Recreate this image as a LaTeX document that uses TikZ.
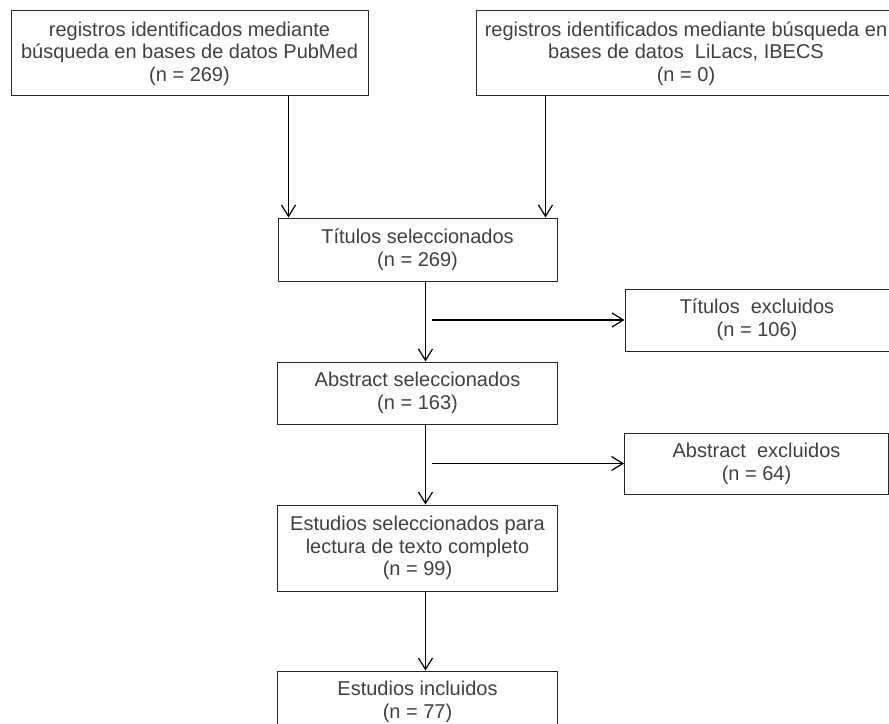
\documentclass[tikz,border=0pt]{standalone}
\usepackage{fontspec}
\setmainfont{Liberation Sans}
\usepackage{xcolor}
\usetikzlibrary{arrows.meta, calc, positioning}

\begin{document}
\begin{tikzpicture}[x=0.75pt, y=-0.75pt]
    % Define the style for the nodes
    \tikzstyle{box} = [draw=black!85, line width=0.75pt, align=center, text=black!75, inner sep=0pt, font=\fontsize{15}{17}\selectfont]
    \tikzstyle{line} = [draw, line width=0.9pt, -{Straight Barb[length=8.5pt, width=10.5pt]}]

    \useasboundingbox (0,0) rectangle (889,724);

    % Place the nodes
    \node [box, minimum width=267.75pt, minimum height=63.75pt] (pubmed) at (189.5,53.5)
        {registros identificados mediante\\ búsqueda en bases de datos PubMed\\ (n = 269)};
    \node [box, minimum width=315pt, minimum height=63.75pt] (lilacs) at (686,53.5)
        {registros identificados mediante búsqueda en\\ bases de datos~ LiLacs, IBECS\\ (n = 0)};
    \node [box, minimum width=209.25pt, minimum height=47.25pt] (titsel) at (417.5,249.5)
        {Títulos seleccionados\\ (n = 269)};
    \node [box, minimum width=198pt, minimum height=46.5pt, below right=5.25pt and 50.25pt of titsel] (titexc)
        {Títulos~ excluidos\\ (n = 106)};
    \node [box, minimum width=210pt, minimum height=46.5pt, below=60pt of titsel] (abssel)
        {Abstract seleccionados\\ (n = 163)};
    \node [box, minimum width=198pt, minimum height=45.75pt, below right=6pt and 49.5pt of abssel] (absexc)
        {Abstract~ excluidos\\ (n = 64)};
    \node [box, minimum width=210pt, minimum height=64.5pt, below=60pt of abssel] (textsel)
        {Estudios seleccionados para\\ lectura de texto completo\\ (n = 99)};
    \node [box, minimum width=210pt, minimum height=46.5pt, below=59.25pt of textsel] (incl)
        {Estudios incluidos\\ (n = 77)};

    % Points where the arrows meet the boxes
    \coordinate (inA) at ($(titsel.north west)+(11,0)$);
    \coordinate (inB) at ($(titsel.north east)+(-12,0)$);
    \coordinate (col) at ($(titsel.south west)+(148,0)$);

    % Connect the nodes with paths
    \path [line] (pubmed.south -| inA) -- (inA);
    \path [line] (lilacs.south -| inB) -- (inB);
    \path [line] (titsel.south -| col) -- (abssel.north -| col);
    \path [line] ($(titexc.west -| col)+(6,0)$) -- (titexc.west);
    \path [line] (abssel.south -| col) -- (textsel.north -| col);
    \path [line] ($(absexc.west -| col)+(6,0)$) -- (absexc.west);
    \path [line] (textsel.south -| col) -- (incl.north -| col);

\end{tikzpicture}
\end{document}
